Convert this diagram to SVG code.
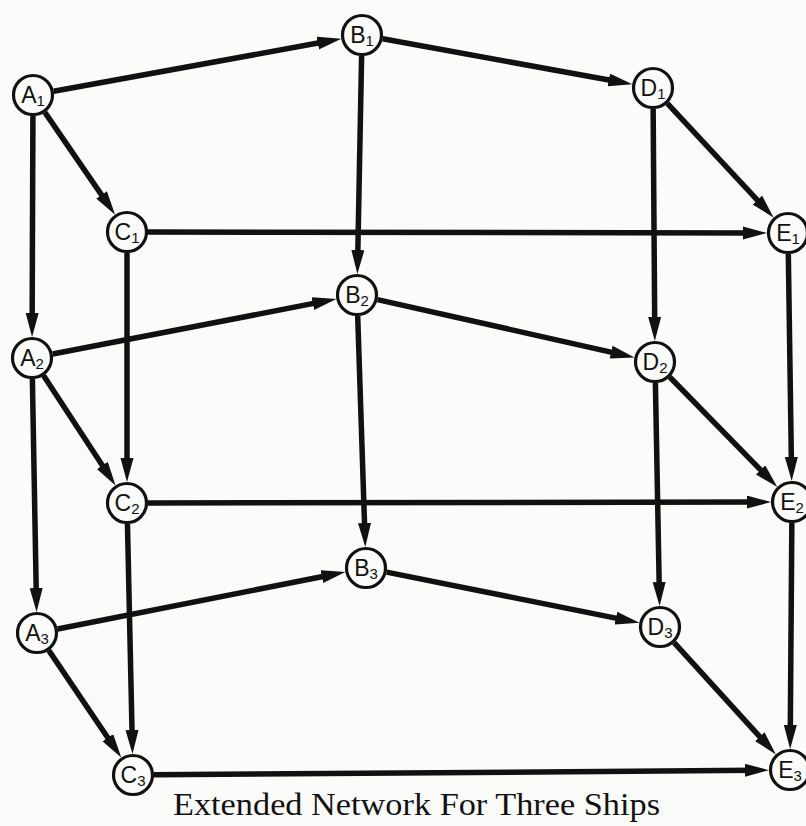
<svg xmlns="http://www.w3.org/2000/svg" width="806" height="826" viewBox="0 0 806 826">
<style>
.bg{fill:#fbfbf9}
.node circle{fill:#fbfbf9;stroke:#111;stroke-width:3.2}
.node text{font-family:"Liberation Sans",Arial,sans-serif;font-size:23px;fill:#111;text-anchor:middle}
.node tspan{font-size:15px}
#edges line{stroke:#111;stroke-width:5.5;marker-end:url(#arr)}
.cap{font-family:"Liberation Serif","Times New Roman",serif;font-size:32px;fill:#111}
</style>
<defs>
<marker id="arr" markerUnits="userSpaceOnUse" markerWidth="26" markerHeight="14" refX="10" refY="6.5" orient="auto">
<path d="M0,0 L24,6.5 L0,13 z" fill="#111"/>
</marker>
</defs>
<rect class="bg" x="0" y="0" width="806" height="826"/>
<g id="edges">
<line x1="53.66" y1="91.23" x2="327.57" y2="41.28"/>
<line x1="382.66" y1="38.76" x2="618.57" y2="81.73"/>
<line x1="44.88" y1="112.32" x2="107.20" y2="203.14"/>
<line x1="32.92" y1="116" x2="32.13" y2="323"/>
<line x1="361.60" y1="56" x2="357.67" y2="260.01"/>
<line x1="667.31" y1="103.37" x2="764.15" y2="207.38"/>
<line x1="653.15" y1="109" x2="654.74" y2="327"/>
<line x1="148" y1="232.03" x2="753" y2="232.95"/>
<line x1="127" y1="253" x2="127" y2="468"/>
<line x1="788.31" y1="254" x2="791.48" y2="467"/>
<line x1="52.62" y1="354.0" x2="322.64" y2="301.66"/>
<line x1="377.49" y1="299.61" x2="620.85" y2="354.32"/>
<line x1="43.51" y1="375.57" x2="107.82" y2="473.72"/>
<line x1="32.38" y1="379" x2="36.36" y2="598.01"/>
<line x1="357.69" y1="315.99" x2="364.85" y2="533.02"/>
<line x1="669.69" y1="377.01" x2="767.52" y2="476.99"/>
<line x1="655.40" y1="383" x2="659.34" y2="592.01"/>
<line x1="148" y1="502.97" x2="757" y2="502.05"/>
<line x1="127.46" y1="524" x2="132.23" y2="740.01"/>
<line x1="791.84" y1="523" x2="790.26" y2="735"/>
<line x1="57.60" y1="628.93" x2="331.66" y2="574.78"/>
<line x1="386.59" y1="572.13" x2="625.68" y2="620.11"/>
<line x1="48.76" y1="650.40" x2="113.40" y2="746.0"/>
<line x1="674.13" y1="642.54" x2="766.46" y2="744.10"/>
<line x1="154" y1="774.84" x2="755" y2="770.27"/>
</g>
<g id="A1" class="node"><circle cx="33" cy="95" r="19.5"/><text x="33" y="103">A<tspan dy="3">1</tspan></text></g>
<g id="B1" class="node"><circle cx="362" cy="35" r="19.5"/><text x="362" y="43">B<tspan dy="3">1</tspan></text></g>
<g id="D1" class="node"><circle cx="653" cy="88" r="19.5"/><text x="653" y="96">D<tspan dy="3">1</tspan></text></g>
<g id="C1" class="node"><circle cx="127" cy="232" r="19.5"/><text x="127" y="240">C<tspan dy="3">1</tspan></text></g>
<g id="E1" class="node"><circle cx="788" cy="233" r="19.5"/><text x="788" y="241">E<tspan dy="3">1</tspan></text></g>
<g id="A2" class="node"><circle cx="32" cy="358" r="19.5"/><text x="32" y="366">A<tspan dy="3">2</tspan></text></g>
<g id="B2" class="node"><circle cx="357" cy="295" r="19.5"/><text x="357" y="303">B<tspan dy="3">2</tspan></text></g>
<g id="D2" class="node"><circle cx="655" cy="362" r="19.5"/><text x="655" y="370">D<tspan dy="3">2</tspan></text></g>
<g id="C2" class="node"><circle cx="127" cy="503" r="19.5"/><text x="127" y="511">C<tspan dy="3">2</tspan></text></g>
<g id="E2" class="node"><circle cx="792" cy="502" r="19.5"/><text x="792" y="510">E<tspan dy="3">2</tspan></text></g>
<g id="A3" class="node"><circle cx="37" cy="633" r="19.5"/><text x="37" y="641">A<tspan dy="3">3</tspan></text></g>
<g id="B3" class="node"><circle cx="366" cy="568" r="19.5"/><text x="366" y="576">B<tspan dy="3">3</tspan></text></g>
<g id="D3" class="node"><circle cx="660" cy="627" r="19.5"/><text x="660" y="635">D<tspan dy="3">3</tspan></text></g>
<g id="C3" class="node"><circle cx="133" cy="775" r="19.5"/><text x="133" y="783">C<tspan dy="3">3</tspan></text></g>
<g id="E3" class="node"><circle cx="790" cy="770" r="19.5"/><text x="790" y="778">E<tspan dy="3">3</tspan></text></g>
<text class="cap" x="173" y="815" textLength="487" lengthAdjust="spacingAndGlyphs">Extended Network For Three Ships</text>
</svg>
